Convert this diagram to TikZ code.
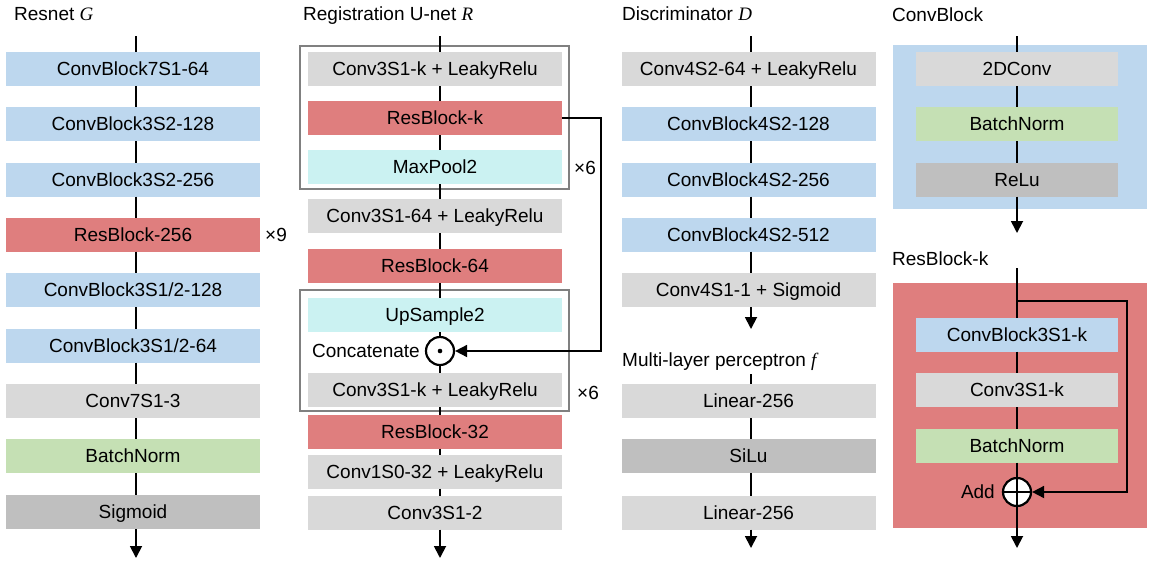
\documentclass[tikz,border=0pt]{standalone}
\usepackage{fontspec}
\setmainfont{Liberation Sans}
\newfontfamily\varfont{Liberation Serif}
\usetikzlibrary{arrows.meta}
\definecolor{cblue}{HTML}{BDD7EE}
\definecolor{cgray}{HTML}{D9D9D9}
\definecolor{cdark}{HTML}{BFBFBF}
\definecolor{cred}{HTML}{DF7E7E}
\definecolor{ccyan}{HTML}{CBF2F2}
\definecolor{cgreen}{HTML}{C5E0B4}
\definecolor{cframe}{HTML}{808080}
\newcommand{\vv}[1]{{\varfont\itshape #1}}
\begin{document}
\begin{tikzpicture}[x=1pt,y=-1pt,font=\fontsize{19}{22}\selectfont,
  layer/.style={minimum width=254pt,minimum height=34pt,inner sep=0pt,outer sep=0pt,text height=14pt,text depth=1pt},
  bluebox/.style={layer,fill=cblue},
  graybox/.style={layer,fill=cgray},
  darkbox/.style={layer,fill=cdark},
  redbox/.style={layer,fill=cred},
  cyanbox/.style={layer,fill=ccyan},
  greenbox/.style={layer,fill=cgreen},
  narrow/.style={minimum width=202pt},
  conn/.style={line width=1.8pt,black},
  arr/.style={conn,-{Triangle[length=12pt,width=12pt]}},
  title/.style={anchor=base west,inner sep=0pt},
  plain/.style={inner sep=0pt},
  frame/.style={draw=cframe,line width=2pt},
  opnode/.style={circle,draw,line width=2.2pt,fill=white,minimum size=28pt,inner sep=0pt}]
\useasboundingbox (0,0) rectangle (1150,563);

% ---------------- Resnet G ----------------
\node[title] (tG) at (14,20) {Resnet \vv{G}};
\coordinate (g-in) at (136,36);
\coordinate (g-out) at (136,558);
\node[bluebox]  (g1) at (133,69)    {ConvBlock7S1-64};
\node[bluebox]  (g2) at (133,124)   {ConvBlock3S2-128};
\node[bluebox]  (g3) at (133,179.5) {ConvBlock3S2-256};
\node[redbox]   (g4) at (133,234.5) {ResBlock-256};
\node[bluebox]  (g5) at (133,290)   {ConvBlock3S1/2-128};
\node[bluebox]  (g6) at (133,345.5) {ConvBlock3S1/2-64};
\node[graybox]  (g7) at (133,401)   {Conv7S1-3};
\node[greenbox] (g8) at (133,456)   {BatchNorm};
\node[darkbox]  (g9) at (133,512)   {Sigmoid};
\node[plain] (x9) at (276,235) {×9};
\draw[conn] (g-in) -- (g1.north -| g-in);
\foreach \a/\b in {g1/g2,g2/g3,g3/g4,g4/g5,g5/g6,g6/g7,g7/g8,g8/g9}
  \draw[conn] (\a.south -| g-in) -- (\b.north -| g-in);
\draw[arr] (g9.south -| g-in) -- (g-out);

% ---------------- Registration U-net R ----------------
\node[title] (tR) at (303,20) {Registration U-net \vv{R}};
\draw[frame] (300,46) rectangle (569,189);
\draw[frame] (300,290) rectangle (569,411);
\coordinate (u-in) at (440,36);
\coordinate (u-out) at (440,558);
\node[graybox]  (u1) at (435,69)    {Conv3S1-k + LeakyRelu};
\node[redbox]   (u2) at (435,118)   {ResBlock-k};
\node[cyanbox]  (u3) at (435,167)   {MaxPool2};
\node[graybox]  (u4) at (435,216)   {Conv3S1-64 + LeakyRelu};
\node[redbox]   (u5) at (435,266)   {ResBlock-64};
\node[cyanbox]  (u6) at (435,315)   {UpSample2};
\node[graybox]  (u7) at (435,390)   {Conv3S1-k + LeakyRelu};
\node[redbox]   (u8) at (435,431.5) {ResBlock-32};
\node[graybox]  (u9) at (435,471.5) {Conv1S0-32 + LeakyRelu};
\node[graybox]  (u10) at (435,512.5) {Conv3S1-2};
\node[opnode] (cat) at (440,351) {};
\fill (cat.center) circle (2.3pt);
\node[plain,anchor=east] (catl) at (420,351) {Concatenate};
\node[plain] (x6a) at (585,168) {×6};
\node[plain] (x6b) at (588,393) {×6};
\draw[conn] (u-in) -- (u1.north -| u-in);
\foreach \a/\b in {u1/u2,u2/u3,u3/u4,u4/u5,u5/u6,u7/u8,u8/u9,u9/u10}
  \draw[conn] (\a.south -| u-in) -- (\b.north -| u-in);
\draw[conn] (u6.south -| u-in) -- (cat.north);
\draw[conn] (cat.south) -- (u7.north -| u-in);
\draw[arr] (u10.south -| u-in) -- (u-out);
\draw[arr] (u2.east) -- ++(39,0) |- (cat.east);

% ---------------- Discriminator D ----------------
\node[title] (tD) at (622,20) {Discriminator \vv{D}};
\coordinate (d-in) at (751,36);
\coordinate (d-out) at (751,329);
\node[graybox] (d1) at (748.5,69)    {Conv4S2-64 + LeakyRelu};
\node[bluebox] (d2) at (748.5,124)   {ConvBlock4S2-128};
\node[bluebox] (d3) at (748.5,179.5) {ConvBlock4S2-256};
\node[bluebox] (d4) at (748.5,234.5) {ConvBlock4S2-512};
\node[graybox] (d5) at (748.5,290)   {Conv4S1-1 + Sigmoid};
\draw[conn] (d-in) -- (d1.north -| d-in);
\foreach \a/\b in {d1/d2,d2/d3,d3/d4,d4/d5}
  \draw[conn] (\a.south -| d-in) -- (\b.north -| d-in);
\draw[arr] (d5.south -| d-in) -- (d-out);

% ---------------- MLP f ----------------
\node[title] (tF) at (622,366) {Multi-layer perceptron \vv{f}};
\coordinate (f-in) at (751,374);
\coordinate (f-out) at (751,548);
\node[graybox] (f1) at (748.5,401)   {Linear-256};
\node[darkbox] (f2) at (748.5,456)   {SiLu};
\node[graybox] (f3) at (748.5,512.5) {Linear-256};
\draw[conn] (f-in) -- (f1.north -| f-in);
\foreach \a/\b in {f1/f2,f2/f3}
  \draw[conn] (\a.south -| f-in) -- (\b.north -| f-in);
\draw[arr] (f3.south -| f-in) -- (f-out);

% ---------------- ConvBlock ----------------
\node[title] (tC) at (892,21.5) {ConvBlock};
\fill[cblue] (893,45) rectangle (1147,209);
\coordinate (c-in) at (1017,36);
\coordinate (c-out) at (1017,233);
\node[graybox,narrow]  (c1) at (1017,69)    {2DConv};
\node[greenbox,narrow] (c2) at (1017,124)   {BatchNorm};
\node[darkbox,narrow]  (c3) at (1017,179.5) {ReLu};
\draw[conn] (c-in) -- (c1.north);
\draw[conn] (c1.south) -- (c2.north);
\draw[conn] (c2.south) -- (c3.north);
\draw[arr] (c3.south) -- (c-out);

% ---------------- ResBlock-k ----------------
\node[title] (tRk) at (892,265) {ResBlock-k};
\fill[cred] (893,283) rectangle (1147,528);
\coordinate (r-in) at (1017,268);
\coordinate (r-br) at (1017,301);
\coordinate (r-out) at (1017,548);
\node[bluebox,narrow]  (r1) at (1017,334.5) {ConvBlock3S1-k};
\node[graybox,narrow]  (r2) at (1017,390)   {Conv3S1-k};
\node[greenbox,narrow] (r3) at (1017,445.5) {BatchNorm};
\node[opnode] (add) at (1017,492) {};
\draw[line width=2pt] (add.north) -- (add.south);
\draw[line width=2pt] (add.west) -- (add.east);
\node[plain,anchor=east] (addl) at (995,492) {Add};
\draw[conn] (r-in) -- (r1.north);
\draw[conn] (r1.south) -- (r2.north);
\draw[conn] (r2.south) -- (r3.north);
\draw[conn] (r3.south) -- (add.north);
\draw[arr] (add.south) -- (r-out);
\draw[arr] (r-br) -- (1127,301) |- (add.east);
\end{tikzpicture}
\end{document}
